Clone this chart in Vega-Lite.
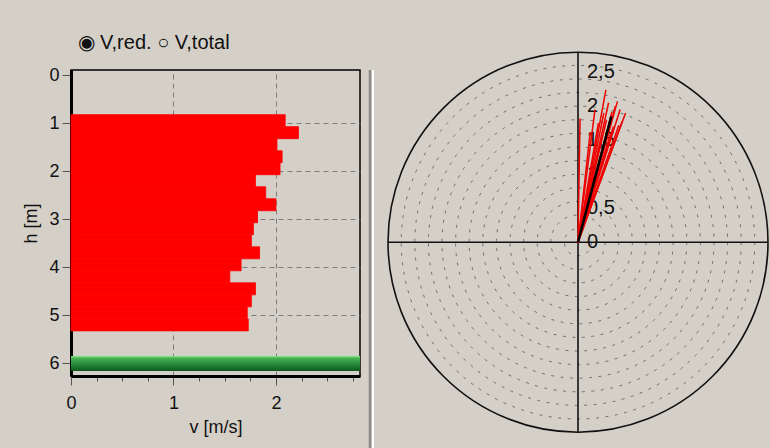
{
  "$schema": "https://vega.github.io/schema/vega-lite/v6.json",
  "autosize": {"type": "pad"},
  "padding": {"left": 22, "top": 31, "right": 0, "bottom": 0},
  "spacing": 6,
  "background": "#d4d0c8",
  "datasets": {
    "profile": [
      {"h1": 0.825, "h2": 1.075, "v": 2.09},
      {"h1": 1.075, "h2": 1.325, "v": 2.22},
      {"h1": 1.325, "h2": 1.575, "v": 2.01},
      {"h1": 1.575, "h2": 1.825, "v": 2.06},
      {"h1": 1.825, "h2": 2.075, "v": 2.04},
      {"h1": 2.075, "h2": 2.325, "v": 1.80},
      {"h1": 2.325, "h2": 2.575, "v": 1.90},
      {"h1": 2.575, "h2": 2.825, "v": 2.00},
      {"h1": 2.825, "h2": 3.075, "v": 1.82},
      {"h1": 3.075, "h2": 3.325, "v": 1.78},
      {"h1": 3.325, "h2": 3.575, "v": 1.76},
      {"h1": 3.575, "h2": 3.825, "v": 1.84},
      {"h1": 3.825, "h2": 4.075, "v": 1.66},
      {"h1": 4.075, "h2": 4.325, "v": 1.55},
      {"h1": 4.325, "h2": 4.575, "v": 1.80},
      {"h1": 4.575, "h2": 4.825, "v": 1.76},
      {"h1": 4.825, "h2": 5.075, "v": 1.72},
      {"h1": 5.075, "h2": 5.325, "v": 1.73}
    ],
    "bed": [{"h1": 5.85, "h2": 6.16, "v0": 0, "v1": 2.82}],
    "rings": [
      {"r": 0.2}, {"r": 0.4}, {"r": 0.6}, {"r": 0.8}, {"r": 1.0}, {"r": 1.2}, {"r": 1.4},
      {"r": 1.6}, {"r": 1.8}, {"r": 2.0}, {"r": 2.2}, {"r": 2.4}, {"r": 2.6}
    ],
    "outer": [{"r": 2.794}],
    "cross": [
      {"x1": -2.794, "x2": 2.794, "y1": 0, "y2": 0},
      {"x1": 0, "x2": 0, "y1": -2.794, "y2": 2.794}
    ],
    "ticklabels": [
      {"r": 0, "t": "0"}, {"r": 0.5, "t": "0,5"}, {"r": 1, "t": "1"},
      {"r": 1.5, "t": "1,5"}, {"r": 2, "t": "2"}, {"r": 2.5, "t": "2,5"}
    ],
    "rays": [
      {"e0": 0, "n0": 0, "e": 0.03, "n": 1.82}, {"e0": 0, "n0": 0, "e": 0.18, "n": 1.62},
      {"e0": 0, "n0": 0, "e": 0.25, "n": 1.95}, {"e0": 0, "n0": 0, "e": 0.30, "n": 1.75},
      {"e0": 0, "n0": 0, "e": 0.41, "n": 2.24}, {"e0": 0, "n0": 0, "e": 0.38, "n": 1.90},
      {"e0": 0, "n0": 0, "e": 0.45, "n": 2.05}, {"e0": 0, "n0": 0, "e": 0.50, "n": 1.92},
      {"e0": 0, "n0": 0, "e": 0.55, "n": 2.00}, {"e0": 0, "n0": 0, "e": 0.58, "n": 2.07},
      {"e0": 0, "n0": 0, "e": 0.52, "n": 1.70}, {"e0": 0, "n0": 0, "e": 0.62, "n": 1.95},
      {"e0": 0, "n0": 0, "e": 0.65, "n": 1.78}, {"e0": 0, "n0": 0, "e": 0.70, "n": 1.90},
      {"e0": 0, "n0": 0, "e": 0.48, "n": 1.60}, {"e0": 0, "n0": 0, "e": 0.35, "n": 1.55},
      {"e0": 0, "n0": 0, "e": 0.60, "n": 1.72}, {"e0": 0, "n0": 0, "e": 0.42, "n": 1.80}
    ],
    "mean": [{"e0": 0, "n0": 0, "e": 0.49, "n": 1.85}]
  },
  "hconcat": [
    {
      "width": 289,
      "height": 306,
      "view": {"stroke": "black", "strokeWidth": 1.5},
      "resolve": {"axis": {"x": "independent"}},
      "layer": [
        {
          "data": {"name": "profile"},
          "mark": {"type": "bar", "orient": "horizontal", "fill": "#ff0000", "stroke": "#ff0000", "strokeWidth": 0.8},
          "encoding": {
            "x": {
              "field": "v", "type": "quantitative",
              "scale": {"domain": [0, 2.82], "nice": false, "zero": false},
              "axis": {
                "orient": "bottom",
                "title": "v [m/s]",
                "values": [0, 0.25, 0.5, 0.75, 1, 1.25, 1.5, 1.75, 2, 2.25, 2.5, 2.75],
                "format": "~g",
                "labelExpr": "datum.value % 1 === 0 ? datum.label : ''",
                "tickSize": {"condition": {"test": "datum.value % 1 === 0", "value": 9}, "value": 5},
                "grid": true,
                "gridOpacity": {"condition": {"test": "datum.value % 1 === 0 && datum.value > 0", "value": 1}, "value": 0},
                "gridDash": [5, 4],
                "gridColor": "#7c7c7c",
                "gridWidth": 1,
                "domainColor": "black",
                "domainWidth": 3,
                "tickColor": "#555",
                "tickWidth": 1,
                "labelFont": "Liberation Sans",
                "labelFontSize": 18,
                "labelColor": "#111",
                "labelPadding": 9,
                "labelFlush": false,
                "titleFont": "Liberation Sans",
                "titleFontSize": 18,
                "titleFontWeight": "normal",
                "titleColor": "#111",
                "titlePadding": 6
              }
            },
            "y": {
              "field": "h1", "type": "quantitative",
              "scale": {"domain": [0, 6.16], "reverse": true, "nice": false, "zero": false},
              "axis": {
                "title": "h [m]",
                "values": [0, 0.25, 0.5, 0.75, 1, 1.25, 1.5, 1.75, 2, 2.25, 2.5, 2.75, 3, 3.25, 3.5, 3.75, 4, 4.25, 4.5, 4.75, 5, 5.25, 5.5, 5.75, 6],
                "format": "~g",
                "labelExpr": "datum.value % 1 === 0 ? datum.label : ''",
                "tickSize": {"condition": {"test": "datum.value % 1 === 0", "value": 9}, "value": 5},
                "grid": true,
                "gridOpacity": {"condition": {"test": "datum.value % 1 === 0 && datum.value > 0 && datum.value < 6", "value": 1}, "value": 0},
                "gridDash": [5, 4],
                "gridColor": "#7c7c7c",
                "gridWidth": 1,
                "domainColor": "black",
                "domainWidth": 3,
                "tickColor": "#555",
                "tickWidth": 1,
                "labelFont": "Liberation Sans",
                "labelFontSize": 18,
                "labelColor": "#111",
                "labelPadding": 3,
                "labelFlush": false,
                "labelBaseline": "middle",
                "titleFont": "Liberation Sans",
                "titleFontSize": 18,
                "titleFontWeight": "normal",
                "titleColor": "#111",
                "titlePadding": 8
              }
            },
            "y2": {"field": "h2"}
          }
        },
        {
          "data": {"name": "bed"},
          "mark": {
            "type": "rect",
            "fill": {
              "gradient": "linear", "x1": 0, "y1": 0, "x2": 0, "y2": 1,
              "stops": [
                {"offset": 0, "color": "#86e486"},
                {"offset": 0.15, "color": "#45b050"},
                {"offset": 0.6, "color": "#248236"},
                {"offset": 1, "color": "#0d5a1e"}
              ]
            }
          },
          "encoding": {
            "x": {
              "field": "v0", "type": "quantitative",
              "axis": {
                "orient": "top",
                "title": "◉  V,red.   ○  V,total",
                "labels": false,
                "ticks": false,
                "domain": false,
                "grid": false,
                "titleAnchor": "start",
                "titleAlign": "left",
                "titleX": 6,
                "titleFont": "Liberation Sans",
                "titleFontSize": 20,
                "titleFontWeight": "normal",
                "titleColor": "#111",
                "titlePadding": 18
              }
            },
            "x2": {"field": "v1"},
            "y": {"field": "h1", "type": "quantitative", "title": "h [m]"},
            "y2": {"field": "h2"}
          }
        }
      ]
    },
    {
      "width": 402,
      "height": 379,
      "view": {"stroke": null},
      "layer": [
        {
          "data": {"name": "outer"},
          "mark": {"type": "rule", "color": "#8a8a8a", "strokeWidth": 2.5},
          "encoding": {
            "x": {"datum": -3.059, "type": "quantitative",
                  "scale": {"domain": [-3.103, 2.809], "nice": false, "zero": false}, "axis": null}
          }
        },
        {
          "data": {"name": "outer"},
          "mark": {"type": "rule", "color": "#ffffff", "strokeWidth": 2},
          "encoding": {
            "x": {"datum": -3.015, "type": "quantitative", "axis": null}
          }
        },
        {
          "data": {"name": "rings"},
          "mark": {"type": "point", "shape": "circle", "filled": false, "opacity": 1,
                   "stroke": "#6e6e6e", "strokeWidth": 1, "strokeDash": [3, 6.5]},
          "encoding": {
            "x": {"datum": 0, "type": "quantitative", "axis": null},
            "y": {"datum": 0, "type": "quantitative",
                  "scale": {"domain": [-3.041, 2.532], "nice": false, "zero": false}, "axis": null},
            "size": {"field": "r", "type": "quantitative", "legend": null,
                     "scale": {"type": "pow", "exponent": 2, "domain": [0, 2.85], "range": [0, 150234]}}
          }
        },
        {
          "data": {"name": "outer"},
          "mark": {"type": "point", "shape": "circle", "filled": false, "opacity": 1,
                   "stroke": "#111", "strokeWidth": 1.6},
          "encoding": {
            "x": {"datum": 0, "type": "quantitative", "axis": null},
            "y": {"datum": 0, "type": "quantitative", "axis": null},
            "size": {"field": "r", "type": "quantitative", "legend": null}
          }
        },
        {
          "data": {"name": "cross"},
          "mark": {"type": "rule", "color": "#111", "strokeWidth": 1.6},
          "encoding": {
            "x": {"field": "x1", "type": "quantitative", "axis": null},
            "x2": {"field": "x2"},
            "y": {"field": "y1", "type": "quantitative", "axis": null},
            "y2": {"field": "y2"}
          }
        },
        {
          "data": {"name": "ticklabels"},
          "mark": {"type": "text", "align": "left", "baseline": "middle", "dx": 9,
                   "font": "Liberation Sans", "fontSize": 20, "color": "#111"},
          "encoding": {
            "x": {"datum": 0, "type": "quantitative", "axis": null},
            "y": {"field": "r", "type": "quantitative", "axis": null},
            "text": {"field": "t", "type": "nominal"}
          }
        },
        {
          "data": {"name": "rays"},
          "mark": {"type": "rule", "color": "#ee0000", "strokeWidth": 1.5},
          "encoding": {
            "x": {"field": "e0", "type": "quantitative", "axis": null},
            "y": {"field": "n0", "type": "quantitative", "axis": null},
            "x2": {"field": "e"},
            "y2": {"field": "n"}
          }
        },
        {
          "data": {"name": "mean"},
          "mark": {"type": "rule", "color": "#000000", "strokeWidth": 2.5},
          "encoding": {
            "x": {"field": "e0", "type": "quantitative", "axis": null},
            "y": {"field": "n0", "type": "quantitative", "axis": null},
            "x2": {"field": "e"},
            "y2": {"field": "n"}
          }
        }
      ]
    }
  ],
  "config": {
    "font": "Liberation Sans",
    "view": {"stroke": null}
  }
}
